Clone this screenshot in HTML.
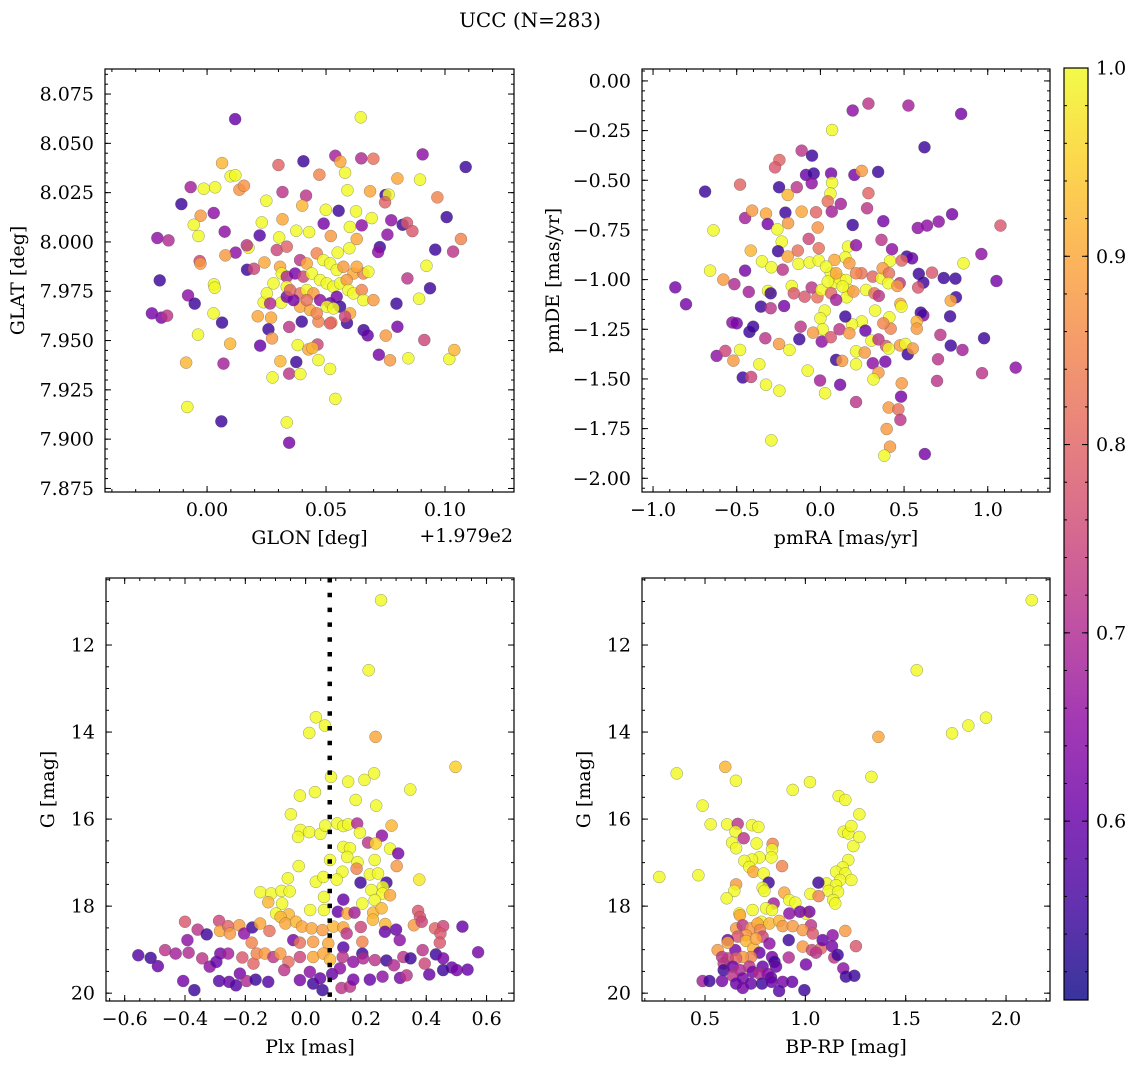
<!DOCTYPE html>
<html><head><meta charset="utf-8">
<style>
html,body{margin:0;padding:0;background:#fff;}
svg{display:block;font-family:"DejaVu Serif","Liberation Serif",serif;}
</style></head>
<body>
<svg id="fig" width="1136" height="1068" viewBox="0 0 1136 1068" xmlns="http://www.w3.org/2000/svg">
<text x="530" y="27" font-size="20" text-anchor="middle">UCC (N=283)</text>
</svg>
<script>
// ---------- Panel 1: GLON offset vs GLAT ----------
const p1x=[0.0118,0.0646,0.1087,0.0906,0.0405,0.030,0.0539,0.056,0.0648,0.0699,0.0063,0.0099,0.0119,0.058,0.0472,0.080,0.0895,-0.0069,-0.0014,0.0034,0.0136,0.0155,0.059,0.0685,0.0317,0.0416,0.040,0.075,0.0763,0.0748,0.0968,-0.0108,0.0249,0.0499,0.0553,0.0626,-0.0027,0.0028,-0.0056,-0.0036,-0.0209,-0.0162,0.0074,0.023,0.0317,0.049,0.060,0.065,0.0692,0.0774,0.0822,0.084,0.0863,0.1007,0.1067,0.0221,0.0303,0.0375,0.0429,0.052,0.0629,0.0758,0.0959,0.1034,0.0726,0.0719,0.0598,0.0549,0.0174,0.0167,0.012,0.0077,-0.0031,-0.0028,-0.0199,0.0029,0.0032,-0.008,-0.0052,-0.0232,-0.0192,-0.0168,0.0027,0.0063,-0.0038,0.0097,-0.0088,0.0069,-0.0083,0.006,0.0335,0.0345,0.0539,0.0168,0.0197,0.0241,0.0842,0.0922,0.0937,0.0891,0.0796,0.080,0.0751,0.0913,0.0722,0.0769,0.0846,0.1018,0.1039,0.0658,0.0675,0.0588,0.0213,0.0269,0.0238,0.0312,0.0258,0.0273,0.0345,0.0398,0.0223,0.0381,0.0426,0.0464,0.0443,0.0468,0.0517,0.0308,0.0375,0.0345,0.0392,0.0275,0.0522,0.0468,0.0293,0.0335,0.0391,0.0419,0.0461,0.0489,0.0517,0.0545,0.0573,0.0615,0.0657,0.0678,0.0629,0.0307,0.0314,0.0335,0.037,0.0405,0.044,0.0475,0.0503,0.0531,0.0559,0.0587,0.0594,0.0615,0.065,0.0657,0.0699,0.0391,0.0419,0.0447,0.0475,0.0517,0.0545,0.0559,0.0391,0.0433,0.0461,0.0503,0.0531,0.0335,0.0279,0.0251,0.0265,0.0335,0.0363,0.0349,0.0601,0.058,0.0517,0.0419];
const p1y=[8.0623,8.0632,8.038,8.0444,8.0409,8.039,8.0437,8.0407,8.0424,8.0422,8.040,8.0333,8.0338,8.0351,8.0341,8.0322,8.0316,8.0278,8.027,8.0277,8.0265,8.0285,8.0262,8.0257,8.0253,8.0235,8.0184,8.0238,8.024,8.0201,8.0226,8.0192,8.0209,8.0163,8.0158,8.0155,8.0133,8.0147,8.0087,8.003,8.002,8.0008,8.0052,8.0099,8.0115,8.0093,8.0076,8.0084,8.0121,8.011,8.0087,8.0097,8.0055,8.0126,8.0015,8.0033,8.0023,8.0057,8.005,8.003,8.0015,8.0037,7.9961,7.9951,7.9974,7.9949,7.9968,7.9946,7.9971,7.9983,7.9946,7.9932,7.9903,7.989,7.9805,7.9785,7.9768,7.9729,7.9687,7.9638,7.9616,7.9626,7.9638,7.9591,7.953,7.9484,7.9388,7.9383,7.9163,7.909,7.9085,7.8982,7.9204,7.9859,7.9864,7.9896,7.9815,7.9879,7.9765,7.9712,7.9687,7.957,7.9525,7.9503,7.9428,7.94,7.941,7.9406,7.9452,7.9553,7.9526,7.9589,7.9623,7.9616,7.9694,7.9692,7.9557,7.9511,7.9569,7.9596,7.9474,7.9477,7.9455,7.948,7.9462,7.9401,7.9356,7.9395,7.9391,7.9332,7.933,7.9313,7.9591,7.9596,7.9959,7.9976,7.9908,7.9891,7.9942,7.9908,7.9891,7.9858,7.9874,7.984,7.984,7.9849,7.9874,7.9874,7.984,7.9824,7.984,7.9824,7.984,7.9807,7.979,7.9773,7.979,7.9807,7.9756,7.9739,7.9756,7.9705,7.9705,7.9739,7.9756,7.9739,7.9705,7.9689,7.9722,7.9672,7.9672,7.9655,7.9638,7.9672,7.9663,7.9773,7.979,7.9739,7.9688,7.9722,7.9705,7.9756,7.9638,7.9621,7.9587,7.9705];
const p1c=[0.6,1.0,0.55,0.65,0.55,0.8,0.68,0.9,0.7,0.82,0.92,1.0,1.0,1.0,0.85,0.9,1.0,0.68,1.0,1.0,0.87,0.87,1.0,0.9,0.72,0.72,0.92,0.55,1.0,0.8,0.85,0.55,1.0,1.0,0.55,1.0,0.88,0.65,1.0,1.0,0.65,0.7,0.65,1.0,0.9,0.62,1.0,0.65,1.0,0.65,0.55,0.78,0.78,0.55,0.85,0.58,1.0,1.0,1.0,0.88,0.9,0.65,0.55,0.72,0.55,0.65,1.0,1.0,1.0,0.72,0.65,0.88,0.75,0.88,0.55,1.0,1.0,0.65,0.55,0.62,0.62,0.72,1.0,0.55,1.0,0.92,0.92,0.68,1.0,0.55,1.0,0.62,1.0,0.55,0.75,0.9,0.72,1.0,0.55,1.0,0.55,0.62,0.88,0.75,0.62,0.88,1.0,1.0,0.92,0.55,0.6,0.55,0.9,0.9,1.0,1.0,0.55,0.88,0.72,0.55,0.6,1.0,0.9,0.75,0.92,1.0,1.0,0.92,0.55,0.72,1.0,1.0,0.85,0.85,0.75,0.8,0.72,0.9,0.85,1.0,1.0,1.0,0.88,0.9,0.85,1.0,0.9,0.9,1.0,0.7,0.62,0.75,1.0,1.0,1.0,1.0,1.0,0.88,1.0,1.0,0.85,1.0,0.88,0.82,1.0,0.88,0.65,0.6,0.62,0.55,0.9,0.9,0.85,1.0,1.0,1.0,1.0,1.0,0.7,0.62,0.62,0.8,0.9,0.75,0.8,0.82,0.72];

// ---------- Panel 2: pmRA vs pmDE ----------
const p2x=[0.193,0.287,0.526,0.841,0.070,0.622,-0.112,-0.05,-0.245,-0.271,-0.086,-0.04,0.064,0.203,0.247,0.345,-0.052,0.07,-0.689,-0.48,-0.247,-0.141,-0.195,0.06,0.287,0.044,0.122,0.279,-0.45,-0.408,-0.325,-0.209,-0.112,-0.026,0.068,-0.315,-0.193,-0.257,-0.639,-0.016,0.193,0.376,0.582,0.637,0.707,0.787,1.076,-0.07,-0.231,-0.253,-0.135,-0.01,0.165,0.213,0.365,0.428,-0.416,-0.349,-0.293,-0.225,-0.195,-0.131,-0.064,-0.01,0.149,0.084,-0.659,-0.45,-0.58,-0.514,-0.867,-0.803,-0.428,-0.313,-0.297,-0.217,-0.355,-0.297,-0.171,-0.159,-0.094,-0.018,-0.052,0.006,0.062,0.086,0.118,0.153,0.169,0.157,0.197,0.064,0.094,0.245,0.273,0.323,0.349,0.313,0.365,0.416,0.372,0.41,0.406,0.474,0.46,0.516,0.548,0.486,0.588,0.615,0.584,0.667,0.737,0.807,0.855,0.962,1.052,0.81,0.779,0.775,0.615,0.6,0.576,0.576,0.717,0.779,0.849,0.978,0.703,1.167,0.966,0.697,0.478,0.484,0.327,0.412,0.42,0.376,0.247,0.189,0.149,0.026,0,0.014,-0.118,-0.126,-0.044,0.008,0.062,0.114,0.173,0.269,0.305,0.347,0.392,0.408,0.476,0.508,0.522,0.552,0.213,0.265,0.313,0.388,0.213,0.094,0.13,0.347,0.317,-0.526,-0.5,-0.424,-0.402,-0.329,-0.247,-0.185,-0.62,-0.568,-0.52,-0.48,-0.365,-0.464,-0.414,-0.325,-0.245,-0.076,-0.002,0.028,0.118,0.213,0.486,0.482,0.408,0.466,0.478,0.396,0.416,0.382,0.624,-0.293,0.034,0.094,0.133,0.044,0.173,0.213];
const p2y=[-0.149,-0.114,-0.124,-0.166,-0.247,-0.334,-0.351,-0.376,-0.398,-0.435,-0.473,-0.466,-0.466,-0.473,-0.453,-0.458,-0.515,-0.512,-0.557,-0.522,-0.535,-0.535,-0.574,-0.567,-0.565,-0.606,-0.619,-0.641,-0.69,-0.653,-0.668,-0.663,-0.658,-0.661,-0.658,-0.72,-0.716,-0.747,-0.752,-0.738,-0.725,-0.706,-0.74,-0.728,-0.708,-0.671,-0.728,-0.795,-0.809,-0.857,-0.854,-0.842,-0.834,-0.827,-0.8,-0.847,-0.854,-0.908,-0.938,-0.95,-0.884,-0.921,-0.914,-0.904,-0.888,-0.901,-0.955,-0.955,-1.0,-1.023,-1.039,-1.124,-1.062,-1.057,-1.069,-1.133,-1.136,-1.144,-1.032,-1.069,-1.086,-1.089,-1.04,-1.052,-0.968,-1.015,-0.998,-1.002,-1.052,-1.089,-1.06,-1.069,-1.102,-0.968,-1.052,-1.069,-1.082,-0.985,-0.993,-0.906,-0.943,-0.968,-1.018,-1.018,-1.032,-0.884,-0.893,-0.904,-0.971,-1.015,-1.04,-0.965,-0.992,-0.995,-0.918,-0.871,-1.007,-1.089,-1.106,-1.185,-1.18,-1.166,-1.211,-1.247,-1.278,-1.332,-1.354,-1.295,-1.401,-1.443,-1.471,-1.51,-1.122,-1.136,-1.156,-1.19,-1.247,-1.22,-1.211,-1.225,-1.186,-1.156,-1.195,-1.25,-1.237,-1.3,-1.267,-1.312,-1.29,-1.25,-1.27,-1.257,-1.307,-1.301,-1.334,-1.347,-1.331,-1.324,-1.376,-1.347,-1.361,-1.367,-1.421,-1.413,-1.426,-1.404,-1.409,-1.468,-1.502,-1.216,-1.22,-1.263,-1.237,-1.295,-1.324,-1.354,-1.384,-1.359,-1.408,-1.354,-1.426,-1.493,-1.49,-1.529,-1.559,-1.458,-1.508,-1.572,-1.529,-1.616,-1.522,-1.589,-1.644,-1.653,-1.706,-1.752,-1.841,-1.886,-1.878,-1.809,-0.935,-0.968,-1.035,-1.01,-0.918,-0.968];
const p2c=[0.65,0.72,0.68,0.62,1.0,0.55,0.72,0.55,0.8,0.78,0.6,0.55,0.62,0.62,0.88,0.55,0.65,1.0,0.55,0.8,0.55,0.72,0.92,1.0,0.8,0.82,0.68,0.72,0.68,0.88,0.9,0.55,0.9,0.8,0.68,0.62,0.88,1.0,1.0,0.87,0.55,0.62,0.65,0.65,0.65,0.62,0.78,0.75,1.0,0.55,0.82,0.82,1.0,0.65,0.72,0.65,0.92,1.0,1.0,0.72,0.9,1.0,1.0,1.0,1.0,0.9,1.0,0.62,0.88,0.7,0.62,0.62,0.68,1.0,0.55,0.62,0.55,0.72,1.0,0.78,0.78,0.82,0.72,1.0,1.0,1.0,1.0,1.0,1.0,1.0,0.88,0.8,0.68,0.82,1.0,0.82,0.72,0.8,1.0,1.0,0.88,0.82,1.0,0.72,0.88,0.55,0.6,0.8,0.55,0.55,0.78,0.78,0.55,0.55,1.0,0.65,0.62,0.55,0.9,0.55,0.65,0.55,0.92,0.88,0.72,0.55,0.68,0.55,0.72,0.65,0.72,0.72,0.9,1.0,1.0,1.0,0.85,0.85,1.0,1.0,0.55,1.0,1.0,1.0,0.72,0.55,0.88,0.65,0.78,0.72,0.88,0.6,1.0,0.72,0.78,1.0,0.88,1.0,0.55,0.88,1.0,0.88,0.65,0.62,1.0,0.55,0.88,0.88,1.0,0.65,0.62,0.55,0.55,0.72,0.88,1.0,0.65,0.75,0.88,1.0,1.0,0.55,0.75,1.0,1.0,1.0,0.68,1.0,0.62,0.72,0.88,0.62,0.88,0.82,0.72,0.88,0.88,1.0,0.62,1.0,1.0,0.9,1.0,1.0,0.88,0.85];

// ---------- Panel 3: Plx vs G ----------
const plxMarker=[0.08];
const p3x=[0.25,0.209,0.034,0.012,0.064,0.232,0.497,0.084,0.141,0.195,0.227,0.347,-0.019,0.031,0.166,0.234,-0.049,-0.017,-0.025,0.012,0.049,0.065,0.105,0.125,0.141,0.171,0.18,0.285,0.253,0.207,0.232,0.28,0.307,0.125,0.147,0.138,0.081,0.172,0.169,0.229,0.302,-0.023,0.122,0.213,0.24,0.103,-0.059,0.034,0.059,0.182,0.268,0.256,0.377,-0.15,-0.114,-0.08,-0.053,-0.124,-0.078,0.061,0.125,0.218,0.255,0.28,0.229,0.188,-0.098,-0.056,0.015,0.061,0.107,0.138,0.162,0.224,0.252,0.223,0.373,0.379,-0.4,-0.358,-0.328,-0.287,-0.284,-0.257,-0.22,-0.251,-0.177,-0.151,-0.12,-0.083,-0.067,-0.032,-0.012,0.02,0.056,0.092,0.125,0.183,0.136,0.264,0.263,0.3,0.359,0.385,0.429,0.456,0.447,0.52,-0.392,-0.204,-0.179,-0.041,-0.019,0.025,0.075,0.125,0.188,0.312,0.445,-0.555,-0.514,-0.49,-0.466,-0.431,-0.388,-0.343,-0.318,-0.296,-0.283,-0.257,-0.21,-0.173,-0.162,-0.135,-0.107,-0.084,-0.057,-0.019,0.025,0.059,0.081,0.123,0.158,0.188,0.191,0.23,0.268,0.293,0.324,0.348,0.388,0.395,0.432,0.456,0.485,0.456,0.501,0.537,0.572,-0.406,-0.369,-0.287,-0.254,-0.231,-0.218,-0.196,-0.166,-0.124,-0.071,-0.019,0.014,0.025,0.048,0.056,0.088,0.114,0.119,0.147,0.158,0.213,0.255,0.313,0.335,0.41];
const p3g=[10.97,12.58,13.66,14.02,13.85,14.11,14.8,15.03,15.14,15.1,14.95,15.32,15.46,15.38,15.56,15.69,15.89,16.25,16.41,16.3,16.34,16.15,16.1,16.16,16.12,16.1,16.31,16.15,16.38,16.54,16.56,16.68,16.79,16.64,16.67,16.87,16.94,16.99,17.14,16.94,17.08,17.08,17.21,17.27,17.25,17.39,17.36,17.44,17.33,17.46,17.46,17.56,17.39,17.68,17.71,17.65,17.66,17.91,17.94,17.79,17.85,17.63,17.71,17.75,17.86,17.94,18.17,18.19,18.09,18.09,18.13,18.17,18.15,18.15,18.05,18.31,18.11,18.25,18.36,18.54,18.65,18.34,18.57,18.46,18.44,18.63,18.49,18.4,18.57,18.25,18.4,18.36,18.47,18.51,18.55,18.47,18.49,18.48,18.63,18.41,18.59,18.54,18.44,18.36,18.51,18.46,18.63,18.47,18.78,18.63,18.84,18.78,18.84,18.82,18.86,18.95,18.82,18.78,18.84,19.13,19.19,19.38,19.01,19.09,19.07,19.2,19.39,19.28,19.09,19.09,19.18,19.32,19.09,19.09,19.17,19.09,19.28,19.17,19.17,19.09,19.23,19.17,19.28,19.09,19.2,19.24,19.25,19.36,19.17,19.2,19.01,19.32,19.11,19.2,19.41,19.47,19.47,19.46,19.06,19.72,19.93,19.72,19.74,19.82,19.55,19.72,19.69,19.74,19.47,19.7,19.51,19.78,19.66,19.93,19.56,19.43,19.88,19.85,19.69,19.69,19.62,19.65,19.59,19.57];
const p3c=[1.0,1.0,1.0,1.0,1.0,0.9,0.95,1.0,1.0,1.0,1.0,1.0,1.0,1.0,1.0,1.0,1.0,1.0,1.0,1.0,1.0,1.0,1.0,1.0,1.0,0.7,1.0,0.92,0.65,0.72,0.95,1.0,0.62,1.0,1.0,1.0,1.0,1.0,0.85,1.0,0.88,1.0,1.0,1.0,1.0,1.0,1.0,1.0,1.0,0.55,0.55,1.0,0.98,1.0,1.0,1.0,1.0,0.92,1.0,1.0,0.6,1.0,1.0,0.9,1.0,1.0,1.0,0.92,1.0,1.0,0.6,0.9,0.68,0.92,0.92,0.92,0.78,0.78,0.78,0.72,0.55,0.75,0.9,0.8,0.88,0.88,0.55,0.9,0.82,0.92,0.9,0.92,0.9,0.9,0.88,0.92,0.9,0.75,0.72,0.92,0.6,0.6,0.88,0.75,0.8,0.75,0.78,0.6,0.65,0.65,0.85,0.62,0.82,0.88,0.9,0.58,0.85,0.65,0.78,0.58,0.55,0.6,0.72,0.68,0.7,0.72,0.65,0.6,0.62,0.68,0.78,0.8,0.85,0.88,0.72,0.88,0.82,0.75,0.9,0.9,0.92,0.72,0.65,0.55,0.7,0.72,0.55,0.7,0.72,0.55,0.72,0.75,0.55,0.62,0.6,0.55,0.62,0.6,0.62,0.62,0.55,0.58,0.6,0.58,0.62,0.7,0.55,0.58,0.72,0.62,0.65,0.55,0.6,0.55,0.6,0.65,0.72,0.72,0.62,0.6,0.65,0.62,0.72,0.6];

// ---------- Panel 4: BP-RP vs G ----------
const p4x=[2.128,1.555,1.364,1.731,1.812,1.9,1.329,0.359,0.601,0.654,0.937,1.023,1.166,1.199,1.269,0.488,0.528,0.61,0.663,0.734,0.766,0.652,0.693,0.635,0.757,0.655,0.837,0.834,0.831,0.771,0.734,0.696,0.721,0.884,0.741,0.792,0.817,0.787,0.796,0.655,0.646,0.608,0.272,0.467,1.191,1.214,1.229,1.239,1.269,1.214,1.186,1.153,1.199,1.229,1.173,1.106,1.153,1.116,1.163,1.139,1.149,1.065,1.025,1.066,0.895,0.92,0.95,0.842,0.804,0.834,0.737,0.671,0.674,0.92,1.003,1.02,0.973,1.028,0.781,0.821,0.87,0.887,0.937,0.987,1.037,0.655,0.688,0.729,0.762,0.774,0.705,0.663,0.787,0.613,0.651,0.613,0.563,0.705,0.741,0.754,0.821,0.917,0.987,1.033,1.078,1.086,1.136,1.199,1.252,1.133,1.144,1.161,1.003,1.053,0.917,0.834,0.846,0.854,0.787,0.771,0.729,0.688,0.655,0.613,0.585,0.593,0.593,0.638,0.674,0.721,0.737,0.771,0.812,0.829,0.638,0.688,0.488,0.522,0.585,0.655,0.688,0.729,0.784,0.832,0.887,0.869,0.934,0.995,1.189,1.202,1.244];
const p4g=[10.97,12.58,14.11,14.03,13.85,13.67,15.03,14.95,14.8,15.12,15.33,15.15,15.47,15.56,15.89,15.69,16.12,16.12,16.11,16.14,16.18,16.29,16.44,16.54,16.56,16.67,16.57,16.7,16.88,16.88,16.93,16.96,17.1,17.08,17.21,17.25,17.46,17.58,17.65,17.5,17.65,17.82,17.33,17.29,16.29,16.33,16.16,16.62,16.41,16.94,17.11,17.21,17.25,17.4,17.4,17.48,17.52,17.65,17.67,17.86,17.94,17.46,17.72,17.77,17.69,17.86,17.92,17.94,18.05,18.09,18.09,18.17,18.21,18.17,18.17,18.13,18.13,18.44,18.36,18.4,18.34,18.46,18.46,18.55,18.63,18.51,18.44,18.51,18.4,18.55,18.67,18.7,18.7,18.78,19.01,18.84,19.01,18.8,18.97,18.75,18.86,18.78,18.93,19.01,18.97,18.78,18.67,18.57,18.92,18.92,19.18,19.12,19.34,19.07,19.18,19.17,19.28,19.39,19.39,19.07,19.17,19.17,19.2,19.2,19.17,19.32,19.47,19.39,19.47,19.39,19.51,19.55,19.56,19.64,19.6,19.66,19.72,19.72,19.72,19.78,19.88,19.78,19.78,19.74,19.74,19.95,19.74,19.93,19.43,19.62,19.6];
const p4c=[1.0,1.0,0.9,1.0,1.0,1.0,1.0,1.0,0.92,1.0,1.0,1.0,1.0,1.0,1.0,1.0,1.0,1.0,0.72,1.0,1.0,1.0,0.72,1.0,1.0,1.0,0.85,1.0,1.0,1.0,1.0,1.0,1.0,0.85,0.9,1.0,0.55,1.0,1.0,0.88,1.0,1.0,1.0,1.0,1.0,1.0,1.0,1.0,1.0,1.0,1.0,1.0,1.0,1.0,1.0,1.0,1.0,1.0,1.0,1.0,1.0,0.55,1.0,0.85,0.9,1.0,1.0,0.68,1.0,1.0,1.0,1.0,0.9,0.65,1.0,0.62,0.62,0.72,1.0,0.92,0.92,0.88,0.88,0.88,0.78,0.88,0.72,0.88,0.9,0.85,0.88,0.78,0.75,0.6,0.62,0.9,0.88,0.92,0.92,0.9,0.65,0.55,0.88,0.75,0.8,0.6,0.65,0.88,0.78,0.62,0.72,0.55,0.62,0.72,0.7,0.62,0.55,0.6,0.6,0.6,0.85,0.88,0.8,0.75,0.72,0.72,0.55,0.62,0.7,0.72,0.62,0.7,0.65,0.6,0.72,0.62,0.68,0.55,0.62,0.6,0.62,0.6,0.55,0.6,0.62,0.58,0.6,0.55,0.65,0.55,0.55];

// ---------- Colour bar ----------
const cbTicks=[0.6,0.7,0.8,0.9,1.0];
const vMin=0.505, vMax=1.0;

const NS="http://www.w3.org/2000/svg";
const svg=document.getElementById('fig');
function mk(tag,attrs,parent){const e=document.createElementNS(NS,tag);for(const k in attrs)e.setAttribute(k,attrs[k]);(parent||svg).appendChild(e);return e;}

const plasma=[[13,8,135],[65,4,157],[106,0,168],[143,13,164],[177,42,144],[204,71,120],[225,100,98],[242,132,75],[252,166,54],[252,206,37],[240,249,33]];
function cmapT(t){t=Math.max(0,Math.min(1,t));const f=t*10;const i=Math.min(9,Math.floor(f));const r=f-i;const a=plasma[i],b=plasma[i+1];return 'rgb('+Math.round(a[0]+(b[0]-a[0])*r)+','+Math.round(a[1]+(b[1]-a[1])*r)+','+Math.round(a[2]+(b[2]-a[2])*r)+')';}
function cmap(v){return cmapT((v-vMin)/(vMax-vMin));}

function fmt(v,d){let s=v.toFixed(d);if(s.startsWith('-'))s='\u2212'+s.slice(1);if(/^\u2212?0(\.0+)?$/.test(s))s=s.replace('\u2212','');return s;}

const FS=19;
let clipId=0;
function panel(o){
  const L=o.L,R=o.R,T=o.T,B=o.B;
  const sx=v=>L+(v-o.x0)/(o.x1-o.x0)*(R-L);
  const sy=o.invert? (v=>T+(v-o.y0)/(o.y1-o.y0)*(B-T)) : (v=>B-(v-o.y0)/(o.y1-o.y0)*(B-T));
  const g=mk('g',{});
  
  
  clipId++;
  const cp=mk('clipPath',{id:'c'+clipId},g);mk('rect',{x:L,y:T,width:R-L,height:B-T},cp);
  const pts=mk('g',{'clip-path':'url(#c'+clipId+')'},g);
  
  
  for(let i=0;i<o.xs.length;i++){
    const c=mk('circle',{cx:sx(o.xs[i]),cy:sy(o.ys[i]),r:6,fill:cmap(o.cs[i]),'fill-opacity':0.82,stroke:'#555','stroke-opacity':0.6,'stroke-width':0.5},pts);
    
    
  }
  if(o.vline!==undefined){
    const ln2=mk('line',{x1:sx(o.vline),x2:sx(o.vline),y1:T,y2:B,stroke:'#000','stroke-width':4.5,'stroke-dasharray':'4.5 10.3'},pts);
    
    
  }
  const tk=mk('g',{stroke:'#000','stroke-width':1},g);
  function xt(v,len){const x=sx(v);mk('line',{x1:x,x2:x,y1:B,y2:B-len},tk);mk('line',{x1:x,x2:x,y1:T,y2:T+len},tk);}
  function yt(v,len){const y=sy(v);mk('line',{x1:L,x2:L+len,y1:y,y2:y},tk);mk('line',{x1:R,x2:R-len,y1:y,y2:y},tk);}
  const lo=Math.min(o.x0,o.x1),hi=Math.max(o.x0,o.x1);
  for(let k=Math.ceil(lo/o.xmin-1e-6);k*o.xmin<=hi+1e-9;k++)xt(k*o.xmin,3);
  for(let k=Math.ceil(lo/o.xmaj-1e-6);k*o.xmaj<=hi+1e-9;k++){const v=k*o.xmaj;xt(v,6);
    const t=mk('text',{x:sx(v),y:B+24,'font-size':FS,'text-anchor':'middle'},g);t.textContent=fmt(v,o.xd);
    }
  const ylo=Math.min(o.y0,o.y1),yhi=Math.max(o.y0,o.y1);
  for(let k=Math.ceil(ylo/o.ymin-1e-6);k*o.ymin<=yhi+1e-9;k++)yt(k*o.ymin,3);
  for(let k=Math.ceil(ylo/o.ymaj-1e-6);k*o.ymaj<=yhi+1e-9;k++){const v=k*o.ymaj;yt(v,6);
    const t=mk('text',{x:L-11,y:sy(v)+6.5,'font-size':FS,'text-anchor':'end'},g);t.textContent=fmt(v,o.yd);
    }
  const fr=mk('rect',{x:L,y:T,width:R-L,height:B-T,fill:'none',stroke:'#000','stroke-width':1.2},g);
  
  const xl=mk('text',{x:(L+R)/2,y:B+52,'font-size':FS,'text-anchor':'middle'},g);xl.textContent=o.xlabel;
  
  const yl=mk('text',{x:0,y:0,'font-size':FS,'text-anchor':'middle',transform:'translate('+o.ylx+','+(T+B)/2+') rotate(-90)'},g);yl.textContent=o.ylabel;
  
}

panel({name:'glon-glat-panel',L:105,R:514,T:69,B:492,x0:-0.0429,x1:0.129,y0:7.8732,y1:8.0877,xmaj:0.05,xmin:0.01,ymaj:0.025,ymin:0.005,xd:2,yd:3,xs:p1x,ys:p1y,cs:p1c,xlabel:'GLON [deg]',ylabel:'GLAT [deg]',ylx:24});
panel({name:'pm-panel',L:642,R:1050,T:69,B:492,x0:-1.066,x1:1.372,y0:-2.069,y1:0.060,xmaj:0.5,xmin:0.1,ymaj:0.25,ymin:0.05,xd:1,yd:2,xs:p2x,ys:p2y,cs:p2c,xlabel:'pmRA [mas/yr]',ylabel:'pmDE [mas/yr]',ylx:559});
panel({name:'plx-g-panel',L:106,R:514,T:578,B:1001,x0:-0.662,x1:0.691,y0:10.46,y1:20.18,invert:true,xmaj:0.2,xmin:0.05,ymaj:2,ymin:0.5,xd:1,yd:0,xs:p3x,ys:p3g,cs:p3c,xlabel:'Plx [mas]',ylabel:'G [mag]',ylx:54,vline:plxMarker[0]});
panel({name:'cmd-panel',L:642,R:1050,T:578,B:1001,x0:0.186,x1:2.219,y0:10.46,y1:20.18,invert:true,xmaj:0.5,xmin:0.1,ymaj:2,ymin:0.5,xd:1,yd:0,xs:p4x,ys:p4g,cs:p4c,xlabel:'BP-RP [mag]',ylabel:'G [mag]',ylx:590});

const off=mk('text',{x:513,y:542,'font-size':FS,'text-anchor':'end'});off.textContent='+1.979e2';


// colourbar
const cb=mk('g',{});


const cbL=1064,cbR=1088,cbT=68,cbB=1000;
const cy=v=>cbB-(v-vMin)/(vMax-vMin)*(cbB-cbT);
const defs=mk('defs',{});
const grad=mk('linearGradient',{id:'cbgrad',x1:0,y1:1,x2:0,y2:0},defs);
for(let i=0;i<=20;i++){mk('stop',{offset:(i/20),'stop-color':cmapT(i/20)},grad);}
const cbr=mk('rect',{x:cbL,y:cbT,width:cbR-cbL,height:cbB-cbT,fill:'url(#cbgrad)','fill-opacity':0.82},cb);

mk('rect',{x:cbL,y:cbT,width:cbR-cbL,height:cbB-cbT,fill:'none',stroke:'#000','stroke-width':1.2},cb);
for(let k=Math.ceil(vMin/0.02);k*0.02<=vMax+1e-9;k++){const y=cy(k*0.02);mk('line',{x1:cbR,x2:cbR-3,y1:y,y2:y,stroke:'#000'},cb);mk('line',{x1:cbL,x2:cbL+3,y1:y,y2:y,stroke:'#000'},cb);}
cbTicks.forEach(v=>{const y=cy(v);mk('line',{x1:cbR,x2:cbR-6,y1:y,y2:y,stroke:'#000'},cb);mk('line',{x1:cbL,x2:cbL+6,y1:y,y2:y,stroke:'#000'},cb);
  const t=mk('text',{x:cbR+8,y:y+6.5,'font-size':FS},cb);t.textContent=v.toFixed(1);
  });
</script>
</body></html>
